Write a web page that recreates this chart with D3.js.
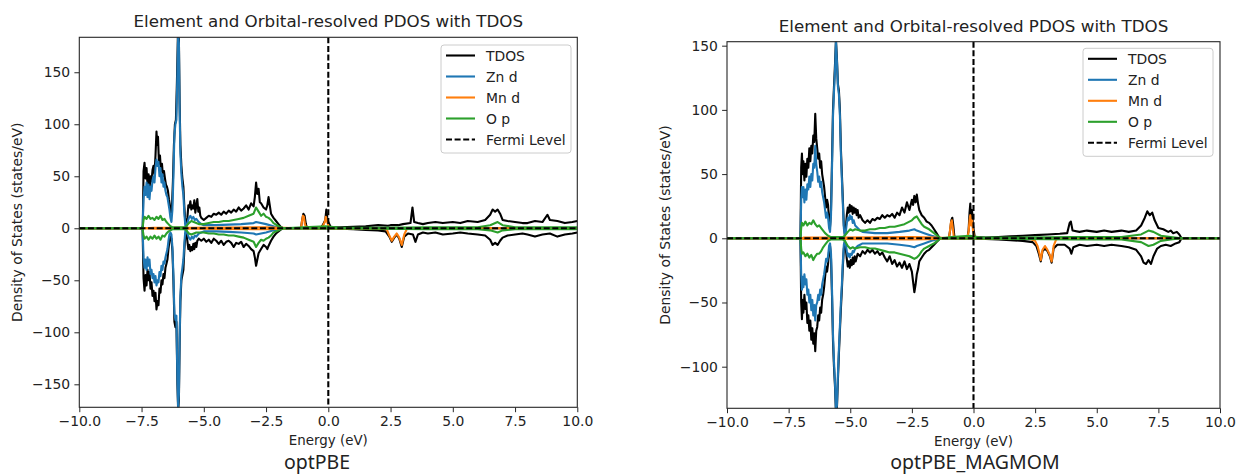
<!DOCTYPE html>
<html>
<head>
<meta charset="utf-8">
<script src="https://cdn.jsdelivr.net/npm/d3@7"></script>
<style>
	body { margin: 0; background: #fff; }
	svg { display: block; }
	text { font-family: "DejaVu Sans", sans-serif; fill: #222; }
</style>
</head>
<body>
<svg id="chart" width="1236" height="475"></svg>
<script>
//////////
// DATA //
//////////
// [energy (eV), DOS (states/eV)], spin down stored as negative values
var X_TICKS = [-10, -7.5, -5, -2.5, 0, 2.5, 5, 7.5, 10];
var Y_TICKS_PBE = [-150, -100, -50, 0, 50, 100, 150];
var Y_TICKS_MAGMOM = [-100, -50, 0, 50, 100, 150];
var LEGEND_LABELS = ["TDOS", "Zn d", "Mn d", "O p", "Fermi Level"];
var PANEL_LABELS = ["optPBE", "optPBE_MAGMOM"];
var TITLE = "Element and Orbital-resolved PDOS with TDOS";

// optPBE
var PBE_TDOS_UP = [[-10,0],[-7.5,0],[-7.45,2],[-7.42,55],[-7.38,63],[-7.34,48],[-7.3,58],[-7.26,42],[-7.22,52],[-7.18,38],[-7.14,50],[-7.1,45],[-7.06,56],[-7.02,60],[-6.98,52],[-6.94,70],[-6.9,93],[-6.87,80],[-6.84,88],[-6.8,62],[-6.76,70],[-6.72,55],[-6.68,62],[-6.64,50],[-6.6,55],[-6.56,48],[-6.52,42],[-6.48,40],[-6.44,36],[-6.4,28],[-6.36,22],[-6.32,15],[-6.28,20],[-6.24,45],[-6.2,80],[-6.16,100],[-6.12,104],[-6.08,140],[-6.04,186],[-6.0,182],[-5.97,120],[-5.94,80],[-5.9,60],[-5.86,48],[-5.82,40],[-5.78,20],[-5.74,5],[-5.7,3],[-5.66,10],[-5.62,22],[-5.58,20],[-5.54,26],[-5.5,18],[-5.46,22],[-5.42,19],[-5.38,27],[-5.34,15],[-5.3,22],[-5.26,28],[-5.22,16],[-5.18,20],[-5.14,12],[-5.1,10],[-5.0,8],[-4.9,10],[-4.8,12],[-4.7,11],[-4.6,14],[-4.5,13],[-4.4,15],[-4.3,13],[-4.2,16],[-4.1,14],[-4.0,17],[-3.9,15],[-3.8,18],[-3.7,16],[-3.6,20],[-3.5,17],[-3.4,19],[-3.3,22],[-3.2,18],[-3.1,24],[-3.0,21],[-2.95,30],[-2.9,44],[-2.85,33],[-2.8,38],[-2.75,25],[-2.7,24],[-2.6,20],[-2.5,18],[-2.45,22],[-2.4,30],[-2.35,22],[-2.3,14],[-2.2,10],[-2.1,7],[-2.0,4],[-1.9,1],[-1.8,0],[-1.1,0],[-1.05,8],[-1.0,14],[-0.95,12],[-0.9,4],[-0.85,0],[-0.3,0],[-0.2,4],[-0.12,8],[-0.08,18],[-0.04,10],[0.0,6],[0.1,1],[0.5,1],[1.0,1.5],[1.5,2],[2.0,3],[2.4,2.5],[2.5,3],[2.8,3],[3.0,4],[3.3,5],[3.38,20],[3.45,6],[3.6,5],[3.8,4],[4.0,5],[4.3,6],[4.6,5],[5.0,6],[5.3,5],[5.6,7],[6.0,6],[6.3,8],[6.5,13],[6.6,18],[6.7,16],[6.8,18],[6.9,14],[7.0,8],[7.2,7],[7.5,6],[7.8,5],[8.0,5],[8.3,7],[8.6,6],[8.8,13],[8.9,8],[9.2,7],[9.5,5],[9.8,6],[10,7]];
var PBE_TDOS_DN = [[-10,0],[-7.46,0],[-7.42,-48],[-7.38,-60],[-7.34,-45],[-7.3,-55],[-7.26,-40],[-7.22,-50],[-7.18,-42],[-7.14,-58],[-7.1,-52],[-7.06,-65],[-7.02,-60],[-6.98,-70],[-6.94,-62],[-6.9,-78],[-6.86,-70],[-6.82,-74],[-6.78,-58],[-6.74,-62],[-6.7,-50],[-6.66,-54],[-6.62,-44],[-6.58,-48],[-6.54,-38],[-6.5,-34],[-6.46,-30],[-6.42,-20],[-6.38,-12],[-6.34,-8],[-6.3,-10],[-6.26,-22],[-6.22,-50],[-6.18,-90],[-6.14,-95],[-6.1,-90],[-6.06,-150],[-6.03,-175],[-6.0,-165],[-5.97,-110],[-5.94,-70],[-5.9,-50],[-5.86,-45],[-5.82,-40],[-5.78,-20],[-5.74,-5],[-5.7,-4],[-5.66,-12],[-5.62,-20],[-5.58,-16],[-5.54,-22],[-5.5,-18],[-5.46,-21],[-5.42,-15],[-5.38,-20],[-5.34,-14],[-5.3,-18],[-5.26,-12],[-5.2,-10],[-5.1,-12],[-5.0,-10],[-4.9,-13],[-4.8,-11],[-4.7,-14],[-4.6,-10],[-4.5,-12],[-4.4,-15],[-4.3,-12],[-4.2,-16],[-4.1,-13],[-4.0,-12],[-3.9,-14],[-3.8,-18],[-3.7,-14],[-3.6,-15],[-3.5,-13],[-3.4,-18],[-3.3,-15],[-3.2,-17],[-3.1,-20],[-3.0,-22],[-2.95,-28],[-2.9,-36],[-2.85,-30],[-2.8,-24],[-2.7,-20],[-2.6,-16],[-2.5,-18],[-2.45,-20],[-2.4,-17],[-2.3,-12],[-2.2,-8],[-2.1,-5],[-2.0,-3],[-1.9,-1],[-1.8,0],[0,0],[0.5,-0.5],[1.0,-1],[1.5,-1.5],[2.0,-2],[2.3,-3],[2.45,-8],[2.55,-13],[2.65,-9],[2.75,-6],[2.85,-10],[2.95,-18],[3.05,-8],[3.2,-5],[3.4,-6],[3.5,-13],[3.6,-6],[3.8,-4],[4.0,-5],[4.3,-4],[4.6,-6],[5.0,-5],[5.3,-4],[5.6,-5],[6.0,-6],[6.3,-7],[6.5,-11],[6.6,-16],[6.7,-14],[6.8,-16],[6.9,-12],[7.0,-9],[7.2,-7],[7.5,-6],[7.8,-5],[8.0,-6],[8.3,-8],[8.6,-6],[8.9,-5],[9.2,-8],[9.5,-6],[9.8,-5],[10,-4]];
var PBE_ZN_UP = [[-10,0],[-7.46,0],[-7.42,28],[-7.38,40],[-7.34,32],[-7.3,44],[-7.26,30],[-7.22,42],[-7.18,28],[-7.14,40],[-7.1,36],[-7.06,46],[-7.02,50],[-6.98,44],[-6.94,58],[-6.9,66],[-6.86,60],[-6.82,64],[-6.78,50],[-6.74,58],[-6.7,44],[-6.66,52],[-6.62,40],[-6.58,44],[-6.54,36],[-6.5,32],[-6.46,30],[-6.42,24],[-6.38,18],[-6.34,10],[-6.3,6],[-6.26,18],[-6.22,50],[-6.18,90],[-6.14,100],[-6.1,104],[-6.06,150],[-6.03,186],[-6.0,178],[-5.97,112],[-5.94,72],[-5.9,52],[-5.86,40],[-5.82,32],[-5.78,14],[-5.74,2],[-5.7,1],[-5.66,5],[-5.6,10],[-5.54,12],[-5.48,9],[-5.42,11],[-5.36,8],[-5.3,9],[-5.2,6],[-5.1,4],[-5.0,3],[-4.5,3],[-4.0,3.5],[-3.5,4],[-3.0,5],[-2.9,6],[-2.5,4],[-2.2,2],[-2.0,1],[-1.8,0],[10,0]];
var PBE_ZN_DN = [[-10,0],[-7.46,0],[-7.42,-28],[-7.38,-38],[-7.34,-30],[-7.3,-40],[-7.26,-28],[-7.22,-36],[-7.18,-30],[-7.14,-44],[-7.1,-40],[-7.06,-48],[-7.02,-44],[-6.98,-52],[-6.94,-46],[-6.9,-55],[-6.86,-50],[-6.82,-52],[-6.78,-42],[-6.74,-46],[-6.7,-36],[-6.66,-40],[-6.62,-32],[-6.58,-34],[-6.54,-28],[-6.5,-24],[-6.46,-20],[-6.42,-12],[-6.38,-6],[-6.34,-4],[-6.3,-6],[-6.26,-18],[-6.22,-45],[-6.18,-82],[-6.14,-88],[-6.1,-84],[-6.06,-145],[-6.03,-172],[-6.0,-160],[-5.97,-105],[-5.94,-65],[-5.9,-45],[-5.86,-38],[-5.82,-30],[-5.78,-14],[-5.74,-2],[-5.7,-1],[-5.66,-5],[-5.6,-9],[-5.54,-11],[-5.48,-8],[-5.42,-10],[-5.36,-7],[-5.3,-8],[-5.2,-5],[-5.1,-4],[-5.0,-3],[-4.5,-3],[-4.0,-3.5],[-3.5,-4],[-3.0,-5],[-2.9,-6],[-2.5,-4],[-2.2,-2],[-2.0,-1],[-1.8,0],[10,0]];
var PBE_MN_UP = [[-10,0],[-7.4,0],[-7,0.5],[-5.5,0.5],[-2.5,1],[-1.8,0.5],[-1.1,0],[-1.06,6],[-1.02,12],[-0.98,11],[-0.94,4],[-0.88,0],[-0.3,0],[-0.2,3],[-0.14,6],[-0.1,11],[-0.06,8],[-0.02,4],[0.05,0],[10,0]];
var PBE_MN_DN = [[-10,0],[-7.4,0],[-7,-0.5],[-5.5,-0.5],[-2.5,-1],[-1.8,-0.5],[-1.5,0],[2.0,-0.5],[2.35,-1],[2.45,-7],[2.55,-12],[2.65,-8],[2.75,-5],[2.85,-9],[2.95,-16],[3.05,-6],[3.15,-1],[3.3,0],[10,0]];
var PBE_O_UP = [[-10,0],[-7.46,0],[-7.42,8],[-7.38,11],[-7.3,9],[-7.22,12],[-7.14,9],[-7.06,10],[-6.98,8],[-6.9,11],[-6.82,9],[-6.74,12],[-6.66,8],[-6.58,9],[-6.5,6],[-6.42,4],[-6.34,2],[-6.26,1],[-6.1,1],[-5.9,1],[-5.75,1],[-5.7,2],[-5.6,5],[-5.5,7],[-5.4,6],[-5.3,5],[-5.2,4],[-5.0,4],[-4.8,5],[-4.6,6],[-4.4,6],[-4.2,7],[-4.0,7],[-3.8,8],[-3.6,9],[-3.4,10],[-3.2,12],[-3.0,14],[-2.9,20],[-2.8,16],[-2.7,12],[-2.6,14],[-2.5,11],[-2.4,10],[-2.3,8],[-2.2,5],[-2.0,2],[-1.8,0],[-1.0,1],[-0.1,2],[0.5,0.5],[2.0,0.5],[4.0,1],[6.0,1],[6.5,3],[6.8,6],[7.0,3],[7.5,1],[9.0,1],[10,1]];
var PBE_O_DN = [[-10,0],[-7.46,0],[-7.42,-7],[-7.38,-10],[-7.3,-8],[-7.22,-11],[-7.14,-8],[-7.06,-10],[-6.98,-7],[-6.9,-10],[-6.82,-8],[-6.74,-11],[-6.66,-7],[-6.58,-8],[-6.5,-5],[-6.42,-3],[-6.34,-2],[-6.26,-1],[-5.75,-1],[-5.7,-2],[-5.6,-5],[-5.5,-6],[-5.4,-5],[-5.3,-4],[-5.2,-4],[-5.0,-4],[-4.8,-5],[-4.6,-5],[-4.4,-6],[-4.2,-6],[-4.0,-7],[-3.8,-7],[-3.6,-8],[-3.4,-9],[-3.2,-11],[-3.0,-13],[-2.9,-18],[-2.8,-14],[-2.7,-11],[-2.6,-12],[-2.5,-10],[-2.4,-9],[-2.3,-7],[-2.2,-4],[-2.0,-2],[-1.8,0],[2,-0.5],[4,-1],[6,-1],[6.5,-2],[6.8,-4],[7,-2],[7.5,-1],[10,-1]];

// optPBE_MAGMOM
var MAG_TDOS_UP = [[-10,0],[-7.02,0],[-6.99,55],[-6.96,66],[-6.93,50],[-6.9,60],[-6.86,45],[-6.82,58],[-6.78,48],[-6.74,62],[-6.7,55],[-6.66,70],[-6.62,60],[-6.58,72],[-6.54,66],[-6.5,80],[-6.46,75],[-6.42,97],[-6.38,78],[-6.34,70],[-6.3,62],[-6.26,66],[-6.22,55],[-6.18,60],[-6.14,50],[-6.1,45],[-6.06,40],[-6.02,32],[-5.98,24],[-5.94,30],[-5.9,26],[-5.86,14],[-5.82,9],[-5.78,22],[-5.74,60],[-5.7,100],[-5.66,118],[-5.62,135],[-5.58,154],[-5.54,140],[-5.5,120],[-5.46,115],[-5.42,100],[-5.38,70],[-5.34,50],[-5.3,30],[-5.26,10],[-5.22,3],[-5.18,8],[-5.14,18],[-5.1,24],[-5.06,20],[-5.02,26],[-4.98,21],[-4.94,25],[-4.9,19],[-4.86,24],[-4.82,20],[-4.78,23],[-4.74,18],[-4.7,22],[-4.66,16],[-4.6,18],[-4.5,14],[-4.4,12],[-4.3,14],[-4.2,12],[-4.1,15],[-4.0,14],[-3.9,16],[-3.8,15],[-3.7,18],[-3.6,16],[-3.5,18],[-3.4,17],[-3.3,19],[-3.2,16],[-3.1,20],[-3.0,18],[-2.9,24],[-2.8,20],[-2.7,28],[-2.6,22],[-2.5,30],[-2.45,26],[-2.4,33],[-2.35,28],[-2.3,34],[-2.25,27],[-2.2,22],[-2.1,18],[-2.0,16],[-1.9,13],[-1.8,12],[-1.7,10],[-1.6,7],[-1.5,4],[-1.4,1],[-1.35,0],[-1.0,0],[-0.95,6],[-0.9,14],[-0.86,16],[-0.82,10],[-0.78,2],[-0.74,0],[-0.25,0],[-0.2,6],[-0.16,20],[-0.13,27],[-0.1,14],[-0.06,22],[-0.02,10],[0.05,1],[0.5,0.5],[1.0,1],[1.5,1.5],[2.0,2],[2.5,2.5],[3.0,3],[3.5,3.5],[3.8,4],[3.9,12],[3.95,13],[4.02,6],[4.3,5],[4.6,6],[5.0,5],[5.3,6],[5.6,5],[6.0,6],[6.3,5],[6.6,6],[6.8,10],[6.95,16],[7.05,21],[7.15,18],[7.25,20],[7.35,14],[7.5,8],[7.7,7],[7.9,5],[8.0,6],[8.1,4],[8.25,5],[8.35,3],[8.44,0],[10,0]];
var MAG_TDOS_DN = [[-10,0],[-7.02,0],[-6.99,-50],[-6.96,-63],[-6.93,-48],[-6.9,-58],[-6.86,-44],[-6.82,-55],[-6.78,-50],[-6.74,-66],[-6.7,-60],[-6.66,-72],[-6.62,-64],[-6.58,-79],[-6.54,-70],[-6.5,-82],[-6.46,-74],[-6.42,-88],[-6.38,-72],[-6.34,-69],[-6.3,-60],[-6.26,-64],[-6.22,-54],[-6.18,-58],[-6.14,-48],[-6.1,-44],[-6.06,-38],[-6.02,-30],[-5.98,-22],[-5.94,-26],[-5.9,-20],[-5.86,-10],[-5.82,-6],[-5.78,-16],[-5.74,-45],[-5.7,-80],[-5.66,-100],[-5.62,-115],[-5.58,-135],[-5.54,-132],[-5.5,-110],[-5.46,-90],[-5.42,-72],[-5.38,-55],[-5.34,-40],[-5.3,-22],[-5.26,-8],[-5.22,-3],[-5.18,-8],[-5.14,-16],[-5.1,-22],[-5.06,-18],[-5.02,-23],[-4.98,-17],[-4.94,-21],[-4.9,-15],[-4.86,-20],[-4.82,-14],[-4.78,-18],[-4.7,-12],[-4.6,-14],[-4.5,-10],[-4.4,-12],[-4.3,-9],[-4.2,-11],[-4.1,-9],[-4.0,-12],[-3.9,-10],[-3.8,-13],[-3.7,-11],[-3.6,-15],[-3.5,-18],[-3.4,-14],[-3.3,-20],[-3.2,-17],[-3.1,-22],[-3.0,-19],[-2.9,-23],[-2.8,-18],[-2.7,-24],[-2.6,-20],[-2.5,-26],[-2.45,-34],[-2.4,-42],[-2.35,-36],[-2.3,-28],[-2.25,-24],[-2.2,-18],[-2.1,-15],[-2.0,-12],[-1.9,-10],[-1.8,-9],[-1.7,-7],[-1.6,-5],[-1.5,-3],[-1.4,-1],[-1.35,0],[0,0],[0.5,-0.5],[1,-1],[1.5,-1.5],[2,-2],[2.4,-3],[2.55,-6],[2.65,-12],[2.73,-18],[2.8,-10],[2.9,-8],[3.0,-10],[3.1,-14],[3.17,-19],[3.25,-8],[3.4,-5],[3.7,-5],[3.9,-8],[3.97,-12],[4.05,-7],[4.3,-5],[4.6,-6],[5.0,-5],[5.3,-6],[5.6,-5],[6.0,-6],[6.3,-7],[6.6,-9],[6.8,-14],[6.9,-19],[7.0,-20],[7.1,-17],[7.2,-20],[7.3,-14],[7.45,-8],[7.6,-6],[7.8,-5],[8.0,-6],[8.2,-4],[8.35,-3],[8.44,0],[10,0]];
var MAG_ZN_UP = [[-10,0],[-7.02,0],[-6.99,30],[-6.96,40],[-6.93,32],[-6.9,40],[-6.86,28],[-6.82,38],[-6.78,30],[-6.74,42],[-6.7,38],[-6.66,48],[-6.62,40],[-6.58,50],[-6.54,45],[-6.5,58],[-6.46,55],[-6.42,72],[-6.38,58],[-6.34,52],[-6.3,44],[-6.26,48],[-6.22,40],[-6.18,44],[-6.14,36],[-6.1,32],[-6.06,28],[-6.02,22],[-5.98,16],[-5.94,20],[-5.9,16],[-5.86,8],[-5.82,5],[-5.78,18],[-5.74,55],[-5.7,95],[-5.66,114],[-5.62,130],[-5.58,154],[-5.54,138],[-5.5,118],[-5.46,112],[-5.42,96],[-5.38,66],[-5.34,46],[-5.3,26],[-5.26,8],[-5.22,2],[-5.18,5],[-5.14,12],[-5.1,16],[-5.06,14],[-5.02,18],[-4.98,15],[-4.94,17],[-4.9,12],[-4.86,14],[-4.8,10],[-4.7,8],[-4.6,6],[-4.5,5],[-4.0,4],[-3.5,4],[-3.0,5],[-2.6,6],[-2.4,7],[-2.3,6],[-2.0,4],[-1.7,2],[-1.5,1],[-1.35,0],[10,0]];
var MAG_ZN_DN = [[-10,0],[-7.02,0],[-6.99,-28],[-6.96,-40],[-6.93,-30],[-6.9,-38],[-6.86,-28],[-6.82,-36],[-6.78,-32],[-6.74,-44],[-6.7,-40],[-6.66,-50],[-6.62,-44],[-6.58,-56],[-6.54,-48],[-6.5,-60],[-6.46,-52],[-6.42,-64],[-6.38,-52],[-6.34,-50],[-6.3,-44],[-6.26,-48],[-6.22,-40],[-6.18,-44],[-6.14,-36],[-6.1,-32],[-6.06,-28],[-6.02,-22],[-5.98,-16],[-5.94,-18],[-5.9,-14],[-5.86,-6],[-5.82,-4],[-5.78,-12],[-5.74,-40],[-5.7,-75],[-5.66,-96],[-5.62,-112],[-5.58,-134],[-5.54,-130],[-5.5,-106],[-5.46,-86],[-5.42,-68],[-5.38,-50],[-5.34,-36],[-5.3,-18],[-5.26,-5],[-5.22,-2],[-5.18,-5],[-5.14,-10],[-5.1,-14],[-5.06,-12],[-5.02,-15],[-4.98,-12],[-4.94,-13],[-4.9,-10],[-4.86,-11],[-4.8,-8],[-4.7,-6],[-4.6,-5],[-4.5,-4],[-4.0,-4],[-3.5,-4],[-3.0,-5],[-2.6,-6],[-2.4,-7],[-2.3,-6],[-2.0,-4],[-1.7,-2],[-1.5,-1],[-1.35,0],[10,0]];
var MAG_MN_UP = [[-10,0],[-7,0],[-6.9,0.5],[-5.5,0.5],[-2.5,1],[-1.4,0.5],[-1.0,0],[-0.96,5],[-0.92,12],[-0.88,14],[-0.84,8],[-0.8,1],[-0.76,0],[-0.25,0],[-0.2,5],[-0.16,14],[-0.13,18],[-0.1,10],[-0.06,14],[-0.02,6],[0.05,0],[10,0]];
var MAG_MN_DN = [[-10,0],[-7,0],[-6.9,-0.5],[-5.5,-0.5],[-2.5,-1],[-1.4,-0.5],[-1.0,0],[2.3,-0.5],[2.5,-2],[2.6,-6],[2.68,-12],[2.73,-17],[2.8,-9],[2.9,-6],[3.0,-9],[3.1,-13],[3.17,-18],[3.25,-6],[3.35,-1],[3.5,0],[10,0]];
var MAG_O_UP = [[-10,0],[-7.02,0],[-6.99,8],[-6.96,12],[-6.9,10],[-6.82,13],[-6.74,10],[-6.66,12],[-6.58,11],[-6.5,14],[-6.42,11],[-6.34,9],[-6.26,10],[-6.18,8],[-6.1,6],[-6.02,4],[-5.9,2],[-5.8,1],[-5.3,1],[-5.22,2],[-5.1,5],[-5.0,7],[-4.9,6],[-4.8,7],[-4.6,6],[-4.4,6],[-4.2,7],[-4.0,7],[-3.8,8],[-3.6,8],[-3.4,9],[-3.2,9],[-3.0,10],[-2.8,11],[-2.6,13],[-2.5,14],[-2.4,16],[-2.3,17],[-2.2,14],[-2.1,11],[-2.0,9],[-1.8,7],[-1.6,4],[-1.4,1],[-1.35,0],[-0.9,1],[-0.15,2],[0.3,0.5],[2,0.5],[4,1],[6,1],[6.8,3],[7.1,6],[7.3,5],[7.6,2],[8.0,1],[8.44,0],[10,0]];
var MAG_O_DN = [[-10,0],[-7.02,0],[-6.99,-8],[-6.96,-12],[-6.9,-11],[-6.82,-14],[-6.74,-12],[-6.66,-15],[-6.58,-13],[-6.5,-17],[-6.42,-14],[-6.34,-12],[-6.26,-12],[-6.18,-10],[-6.1,-7],[-6.02,-5],[-5.9,-2],[-5.8,-1],[-5.3,-1],[-5.22,-2],[-5.1,-6],[-5.0,-8],[-4.9,-7],[-4.8,-8],[-4.6,-7],[-4.4,-7],[-4.2,-8],[-4.0,-8],[-3.8,-9],[-3.6,-10],[-3.4,-11],[-3.2,-11],[-3.0,-12],[-2.8,-13],[-2.6,-14],[-2.5,-15],[-2.4,-16],[-2.3,-15],[-2.2,-13],[-2.1,-10],[-2.0,-8],[-1.8,-6],[-1.6,-4],[-1.4,-1],[-1.35,0],[2,-0.5],[4,-1],[6,-1],[6.8,-3],[7.1,-6],[7.3,-5],[7.6,-2],[8.0,-1],[8.44,0],[10,0]];

/////////////////
// "CONSTANTS" //
/////////////////
var SERIES_COLORS = ["#000000", "#1f77b4", "#ff7f0e", "#2ca02c"];
var LINE_WIDTH = 2.1;
var DASH = "6,2.6";
var FONT_TICK = 13.9;
var FONT_TITLE = 16.7;
var SPINE_COLOR = "#262626";

var PANELS = [
	{
		label: PANEL_LABELS[0], left: 79.3, right: 577.3, top: 37.3, bottom: 407.3,
		yMin: -172.1, yMax: 183.6, yTicks: Y_TICKS_PBE,
		legendX: 441, legendY: 45, ylabelX: 17, captionX: 317,
		lines: [PBE_TDOS_UP, PBE_TDOS_DN, PBE_ZN_UP, PBE_ZN_DN, PBE_MN_UP, PBE_MN_DN, PBE_O_UP, PBE_O_DN]
	},
	{
		label: PANEL_LABELS[1], left: 727, right: 1220, top: 41.7, bottom: 408.3,
		yMin: -132.4, yMax: 153.1, yTicks: Y_TICKS_MAGMOM,
		legendX: 1083, legendY: 48.3, ylabelX: 665, captionX: 975,
		lines: [MAG_TDOS_UP, MAG_TDOS_DN, MAG_ZN_UP, MAG_ZN_DN, MAG_MN_UP, MAG_MN_DN, MAG_O_UP, MAG_O_DN]
	}
];

///////////////
// FUNCTIONS //
///////////////
var svg = d3.select("#chart");

var drawPanel = function(p, i) {
	var x = d3.scaleLinear().domain([-10, 10]).range([p.left, p.right]);
	var y = d3.scaleLinear().domain([p.yMin, p.yMax]).range([p.bottom, p.top]);
	var g = svg.append("g");
	var clipId = "clip" + i;

	g.append("clipPath")
		.attr("id", clipId)
		.append("rect")
		.attr("x", p.left)
		.attr("y", p.top)
		.attr("width", p.right - p.left)
		.attr("height", p.bottom - p.top);

	var plot = g.append("g").attr("clip-path", "url(#" + clipId + ")");
	var line = d3.line()
		.x(function(d) { return x(d[0]); })
		.y(function(d) { return y(d[1]); });

	p.lines.forEach(function(data, k) {
		plot.append("path")
			.attr("d", line(data))
			.attr("fill", "none")
			.attr("stroke", SERIES_COLORS[Math.floor(k / 2)])
			.attr("stroke-width", LINE_WIDTH)
			.attr("stroke-linejoin", "round");
	});

	// fermi level and zero line
	plot.append("line")
		.attr("x1", x(0)).attr("x2", x(0))
		.attr("y1", p.top).attr("y2", p.bottom)
		.attr("stroke", "#000")
		.attr("stroke-width", LINE_WIDTH)
		.attr("stroke-dasharray", DASH);
	plot.append("line")
		.attr("x1", p.left).attr("x2", p.right)
		.attr("y1", y(0)).attr("y2", y(0))
		.attr("stroke", "#000")
		.attr("stroke-width", LINE_WIDTH)
		.attr("stroke-dasharray", DASH);

	// axes
	var xAxis = g.append("g")
		.attr("transform", "translate(0," + p.bottom + ")")
		.call(d3.axisBottom(x).tickValues(X_TICKS).tickFormat(d3.format(".1f")).tickSize(4.9).tickPadding(4.2));
	var yAxis = g.append("g")
		.attr("transform", "translate(" + p.left + ",0)")
		.call(d3.axisLeft(y).tickValues(p.yTicks).tickFormat(d3.format("d")).tickSize(4.9).tickPadding(4.2));
	[xAxis, yAxis].forEach(function(a) {
		a.select(".domain").remove();
		a.attr("font-family", "DejaVu Sans").attr("font-size", FONT_TICK);
		a.selectAll("line").attr("stroke", SPINE_COLOR).attr("stroke-width", 1);
		a.selectAll("text").attr("fill", "#222");
	});

	g.append("rect")
		.attr("x", p.left)
		.attr("y", p.top)
		.attr("width", p.right - p.left)
		.attr("height", p.bottom - p.top)
		.attr("fill", "none")
		.attr("stroke", SPINE_COLOR)
		.attr("stroke-width", 1.1);

	// texts
	g.append("text")
		.attr("x", (p.left + p.right) / 2)
		.attr("y", p.top - 10)
		.attr("text-anchor", "middle")
		.attr("font-size", FONT_TITLE)
		.text(TITLE);
	g.append("text")
		.attr("x", (p.left + p.right) / 2)
		.attr("y", p.bottom + 38)
		.attr("text-anchor", "middle")
		.attr("font-size", 13.4)
		.text("Energy (eV)");
	g.append("text")
		.attr("transform", "translate(" + (p.ylabelX + 5) + "," + ((p.top + p.bottom) / 2) + ") rotate(-90)")
		.attr("text-anchor", "middle")
		.attr("font-size", FONT_TICK)
		.text("Density of States (states/eV)");
	g.append("text")
		.attr("x", p.captionX)
		.attr("y", 469)
		.attr("text-anchor", "middle")
		.attr("font-size", 19.5)
		.style("font-family", "'Noto Sans', sans-serif")
		.text(p.label);

	// legend
	var lg = g.append("g").attr("transform", "translate(" + p.legendX + "," + p.legendY + ")");
	lg.append("rect")
		.attr("width", 130)
		.attr("height", 108)
		.attr("rx", 3)
		.attr("fill", "#fff")
		.attr("fill-opacity", 0.8)
		.attr("stroke", "#cccccc")
		.attr("stroke-width", 1);
	LEGEND_LABELS.forEach(function(name, k) {
		var cy = 10.5 + k * 21;
		lg.append("line")
			.attr("x1", 5).attr("x2", 34)
			.attr("y1", cy).attr("y2", cy)
			.attr("stroke", k < 4 ? SERIES_COLORS[k] : "#000")
			.attr("stroke-width", LINE_WIDTH)
			.attr("stroke-dasharray", k < 4 ? null : DASH);
		lg.append("text")
			.attr("x", 45)
			.attr("y", cy + 5)
			.attr("font-size", FONT_TICK)
			.text(name);
	});
};

//////////
// FLOW //
//////////
PANELS.forEach(drawPanel);
</script>
</body>
</html>
